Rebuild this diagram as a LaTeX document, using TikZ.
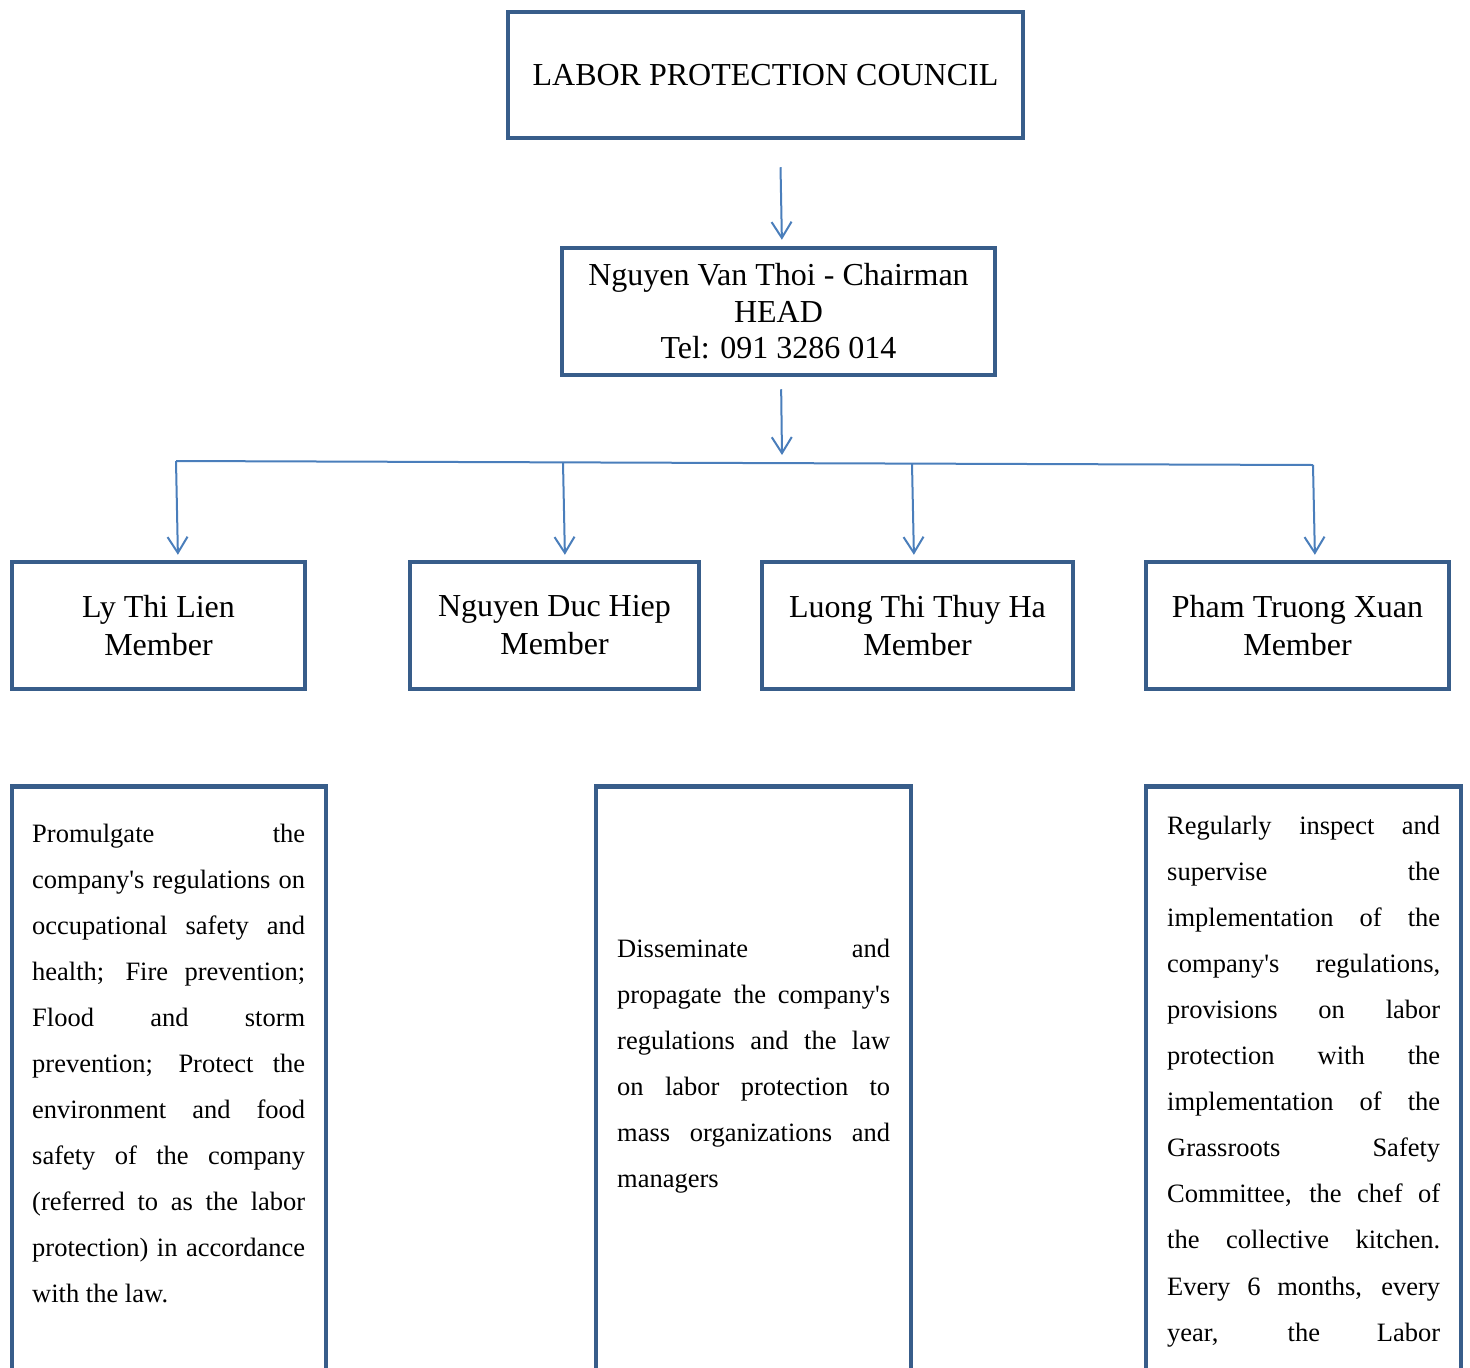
\documentclass[tikz,border=0pt]{standalone}
\usepackage{fontspec}
\setmainfont{Liberation Serif}[Ligatures=TeXOff]
\usetikzlibrary{arrows.meta}
\definecolor{boxblue}{HTML}{385D8A}
\definecolor{lineblue}{HTML}{4A7EBB}
\tikzset{
	unit/.style={draw=boxblue, line width=4.5pt, inner sep=0pt, align=center, font=\fontsize{32}{38}\selectfont},
	link/.style={draw=lineblue, line width=2pt, -{Straight Barb[length=16pt,width=20pt]}},
	descline/.style={anchor=base west, inner sep=0pt, font=\fontsize{26.5}{30}\selectfont},
}
\newcommand{\jline}[1]{\makebox[273pt][s]{#1}}

\begin{document}
\begin{tikzpicture}[x=1pt, y=-1pt]
	\useasboundingbox (0,0) rectangle (1470,1368);
	\clip (0,0) rectangle (1470,1368);
	% council + head
	\node[unit, minimum width=515pt, minimum height=126pt] (council) at (765.5,75) {LABOR PROTECTION COUNCIL};
	\node[unit, minimum width=433pt, minimum height=127pt, font=\fontsize{32}{36.5}\selectfont] (head) at (778.5,311.5) {Nguyen Van Thoi - Chairman\\HEAD\\Tel: 091 3286 014};
	\draw[link, shorten <=27pt, shorten >=6pt] ([xshift=14.5pt]council.south) -- ([xshift=3.5pt]head.north);
	% members
	\node[unit, minimum width=293pt, minimum height=127pt] (m1) at (158.5,625.5) {Ly Thi Lien\\Member};
	\node[unit, minimum width=289pt, minimum height=127pt] (m2) at (554.5,625.5) {Nguyen Duc Hiep\\Member};
	\node[unit, minimum width=311pt, minimum height=127pt] (m3) at (917.5,625.5) {Luong Thi Thuy Ha\\Member};
	\node[unit, minimum width=303pt, minimum height=127pt] (m4) at (1297.5,625.5) {Pham Truong Xuan\\Member};
	% bus line from head to members
	\coordinate (fork) at (782,455);
	\draw[link, shorten <=12pt] ([xshift=2.5pt]head.south) -- (fork);
	\coordinate (d1) at (176,461);
	\coordinate (d2) at (563,462.4);
	\coordinate (d3) at (912,463.6);
	\coordinate (d4) at (1313,465);
	\draw[lineblue, line width=2pt] (d1) -- (d4);
	\foreach \i in {1,...,4}
		\draw[link, shorten >=5pt] (d\i) -- ([xshift=2pt]d\i |- m\i.north);
	% duty boxes
	\node[unit, anchor=north, minimum width=314pt, minimum height=700pt] (duty1) at (169,784) {};
	\node[unit, anchor=north, minimum width=315pt, minimum height=700pt] (duty2) at (753.5,784) {};
	\node[unit, anchor=north, minimum width=315pt, minimum height=700pt] (duty3) at (1303.5,784) {};
	\foreach \t [count=\i from 0] in {Promulgate the, company's regulations on, occupational safety and,
		health; Fire prevention;, Flood and storm, prevention; Protect the, environment and food,
		safety of the company, {(referred to as the labor}, {protection) in accordance}}
		\node[descline] (la\i) at (32,{842+46*\i}) {\jline{\t}};
	\node[descline] (la10) at (32,1302) {with the law.};
	\foreach \t [count=\i from 0] in {Disseminate and, propagate the company's, regulations and the law,
		on labor protection to, mass organizations and}
		\node[descline] (lb\i) at (617,{957+46*\i}) {\jline{\t}};
	\node[descline] (lb5) at (617,1187) {managers};
	\foreach \t [count=\i from 0] in {Regularly inspect and, supervise the, implementation of the,
		{company's regulations,}, provisions on labor, protection with the, implementation of the,
		Grassroots Safety, {Committee, the chef of}, the collective kitchen., {Every 6 months, every},
		{year, the Labor}}
		\node[descline] (lc\i) at (1167,{834+46.1*\i}) {\jline{\t}};
\end{tikzpicture}
\end{document}
